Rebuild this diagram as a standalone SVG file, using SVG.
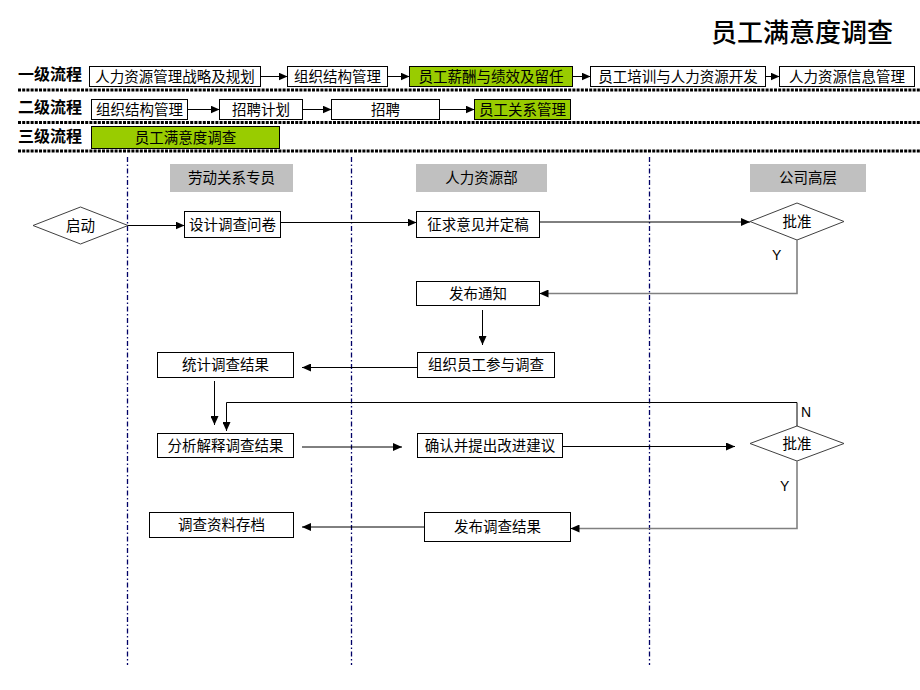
<svg xmlns="http://www.w3.org/2000/svg" width="920" height="690" viewBox="0 0 920 690">
<style>
text{font-family:"Noto Sans CJK SC","Liberation Sans",sans-serif;font-size:14.5px;fill:#000;}
.c{text-anchor:middle;}
.lbl{font-size:16px;font-weight:bold;}
.box{fill:#fff;stroke:#000;stroke-width:1;}
.grn{fill:#99cc00;stroke:#000;stroke-width:1;}
.hdr{fill:#c0c0c0;stroke:none;}
.dia{fill:#fff;stroke:#404040;stroke-width:1;}
.sep{stroke:#000;stroke-width:3;stroke-dasharray:3 1.2;fill:none;}
.lane{stroke:#000066;stroke-width:1.3;stroke-dasharray:5 2.5 1.5 2.5;fill:none;}
.ln{stroke:#000;stroke-width:1;fill:none;}
.gl{stroke:#808080;stroke-width:1.6;fill:none;}
.yn{font-family:"Liberation Sans",Arial,sans-serif;font-size:14px;}
</style>
<defs>
<marker id="ah" markerUnits="userSpaceOnUse" markerWidth="9" markerHeight="8" refX="9" refY="4" orient="auto">
<path d="M0,0 L9,4 L0,8 z" fill="#000"/>
</marker>
</defs>
<rect width="920" height="690" fill="#fff"/>
<text x="893" y="42" style="font-size:26px;font-weight:500;text-anchor:end">员工满意度调查</text>

<g id="separators">
<line class="sep" x1="18" y1="90" x2="920" y2="90"/>
<line class="sep" x1="18" y1="122.5" x2="920" y2="122.5"/>
<line class="sep" x1="18" y1="151" x2="920" y2="151"/>
</g>
<g id="levels">
<text class="lbl" x="18" y="80">一级流程</text>
<text class="lbl" x="18" y="113">二级流程</text>
<text class="lbl" x="18" y="142">三级流程</text>
</g>
<g id="lanes">
<line class="lane" x1="127.5" y1="157" x2="127.5" y2="665"/>
<line class="lane" x1="351.5" y1="157" x2="351.5" y2="665"/>
<line class="lane" x1="649.5" y1="157" x2="649.5" y2="665"/>
</g>

<g id="l1a"><rect class="box" x="89.5" y="66.5" width="171" height="20"/><text class="c" x="175" y="81.5">人力资源管理战略及规划</text></g>
<g id="l1b"><rect class="box" x="287.5" y="66.5" width="100" height="20"/><text class="c" x="337.5" y="81.5">组织结构管理</text></g>
<g id="l1c"><rect class="grn" x="409.5" y="66.5" width="163" height="20"/><text class="c" x="491" y="81.5">员工薪酬与绩效及留任</text></g>
<g id="l1d"><rect class="box" x="590.5" y="66.5" width="175" height="20"/><text class="c" x="678" y="81.5">员工培训与人力资源开发</text></g>
<g id="l1e"><rect class="box" x="779.5" y="66.5" width="135" height="20"/><text class="c" x="847" y="81.5">人力资源信息管理</text></g>

<g id="l2a"><rect class="box" x="91.5" y="99.5" width="96" height="20"/><text class="c" x="139.5" y="114.5">组织结构管理</text></g>
<g id="l2b"><rect class="box" x="219.5" y="99.5" width="83" height="20"/><text class="c" x="261" y="114.5">招聘计划</text></g>
<g id="l2c"><rect class="box" x="331.5" y="99.5" width="108" height="20"/><text class="c" x="385.5" y="114.5">招聘</text></g>
<g id="l2d"><rect class="grn" x="474.5" y="99.5" width="96" height="20"/><text class="c" x="522.5" y="114.5">员工关系管理</text></g>

<g id="l3a"><rect class="grn" x="91.5" y="126.5" width="188" height="22"/><text class="c" x="185.5" y="142.5">员工满意度调查</text></g>

<g id="h1"><rect class="hdr" x="170" y="164" width="123" height="28"/><text class="c" x="231.5" y="183">劳动关系专员</text></g>
<g id="h2"><rect class="hdr" x="416" y="164" width="131" height="28"/><text class="c" x="481.5" y="183">人力资源部</text></g>
<g id="h3"><rect class="hdr" x="750" y="164" width="116" height="28"/><text class="c" x="808" y="183">公司高层</text></g>

<g id="start"><polygon class="dia" points="33,225.5 80.5,207 128,225.5 80.5,244"/><text class="c" x="80.5" y="230.5">启动</text></g>
<g id="design"><rect class="box" x="184.5" y="211.5" width="96" height="26"/><text class="c" x="232.5" y="229.5">设计调查问卷</text></g>
<g id="solicit"><rect class="box" x="416.5" y="211.5" width="123" height="26"/><text class="c" x="478" y="229.5">征求意见并定稿</text></g>
<g id="approve1"><polygon class="dia" points="750,221.5 797,203 844,221.5 797,240"/><text class="c" x="797" y="226.5">批准</text></g>
<g id="notice"><rect class="box" x="416.5" y="281.5" width="123" height="24"/><text class="c" x="478" y="298.5">发布通知</text></g>
<g id="organize"><rect class="box" x="417.5" y="352.5" width="137" height="25"/><text class="c" x="486" y="370">组织员工参与调查</text></g>
<g id="stats"><rect class="box" x="157.5" y="352.5" width="136" height="25"/><text class="c" x="225.5" y="370">统计调查结果</text></g>
<g id="analyze"><rect class="box" x="157.5" y="433.5" width="136" height="24"/><text class="c" x="225.5" y="450.5">分析解释调查结果</text></g>
<g id="confirm"><rect class="box" x="417.5" y="433.5" width="145" height="24"/><text class="c" x="490" y="450.5">确认并提出改进建议</text></g>
<g id="approve2"><polygon class="dia" points="750,443.5 797,426 844,443.5 797,461"/><text class="c" x="797" y="448.5">批准</text></g>
<g id="publish"><rect class="box" x="424.5" y="512.5" width="146" height="29"/><text class="c" x="497.5" y="532">发布调查结果</text></g>
<g id="archive"><rect class="box" x="149.5" y="512.5" width="144" height="25"/><text class="c" x="221.5" y="530">调查资料存档</text></g>

<g id="connectors">
<line class="ln" x1="260.5" y1="76.5" x2="287.5" y2="76.5" marker-end="url(#ah)"/>
<line class="ln" x1="387.5" y1="76.5" x2="409.5" y2="76.5" marker-end="url(#ah)"/>
<line class="ln" x1="572.5" y1="76.5" x2="590.5" y2="76.5" marker-end="url(#ah)"/>
<line class="ln" x1="765.5" y1="76.5" x2="779.5" y2="76.5" marker-end="url(#ah)"/>
<line class="ln" x1="187.5" y1="109.5" x2="219.5" y2="109.5" marker-end="url(#ah)"/>
<line class="ln" x1="302.5" y1="109.5" x2="331.5" y2="109.5" stroke="#555" marker-end="url(#ah)"/>
<line class="ln" x1="439.5" y1="109.5" x2="474.5" y2="109.5" marker-end="url(#ah)"/>

<line class="ln" x1="128" y1="225.5" x2="184.5" y2="225.5" marker-end="url(#ah)"/>
<line class="ln" x1="280.5" y1="222.5" x2="416.5" y2="222.5" marker-end="url(#ah)"/>
<line class="ln" x1="539.5" y1="222" x2="750" y2="222" marker-end="url(#ah)"/>
<polyline class="gl" points="797,240 797,293.5 548,293.5"/>
<line class="ln" x1="548" y1="293.5" x2="539.5" y2="293.5" marker-end="url(#ah)"/>
<text class="yn" x="772" y="260">Y</text>
<line class="ln" x1="482.5" y1="310" x2="482.5" y2="345" marker-end="url(#ah)"/>
<line class="ln" x1="417.5" y1="367.5" x2="302" y2="367.5" marker-end="url(#ah)"/>
<line class="ln" x1="214.5" y1="381" x2="214.5" y2="425" marker-end="url(#ah)"/>
<polyline class="ln" points="797,426 797,402.5 226.5,402.5 226.5,431" marker-end="url(#ah)"/>
<text class="yn" x="801" y="417">N</text>
<line class="ln" x1="302" y1="447" x2="402" y2="447" marker-end="url(#ah)"/>
<line class="ln" x1="562.5" y1="446.5" x2="735" y2="446.5" marker-end="url(#ah)"/>
<polyline class="gl" points="797,461 797,528.5 579,528.5"/>
<line class="ln" x1="579" y1="528.5" x2="570.5" y2="528.5" marker-end="url(#ah)"/>
<text class="yn" x="780" y="491">Y</text>
<line class="ln" x1="424.5" y1="527" x2="302" y2="527" marker-end="url(#ah)"/>
</g>
</svg>
